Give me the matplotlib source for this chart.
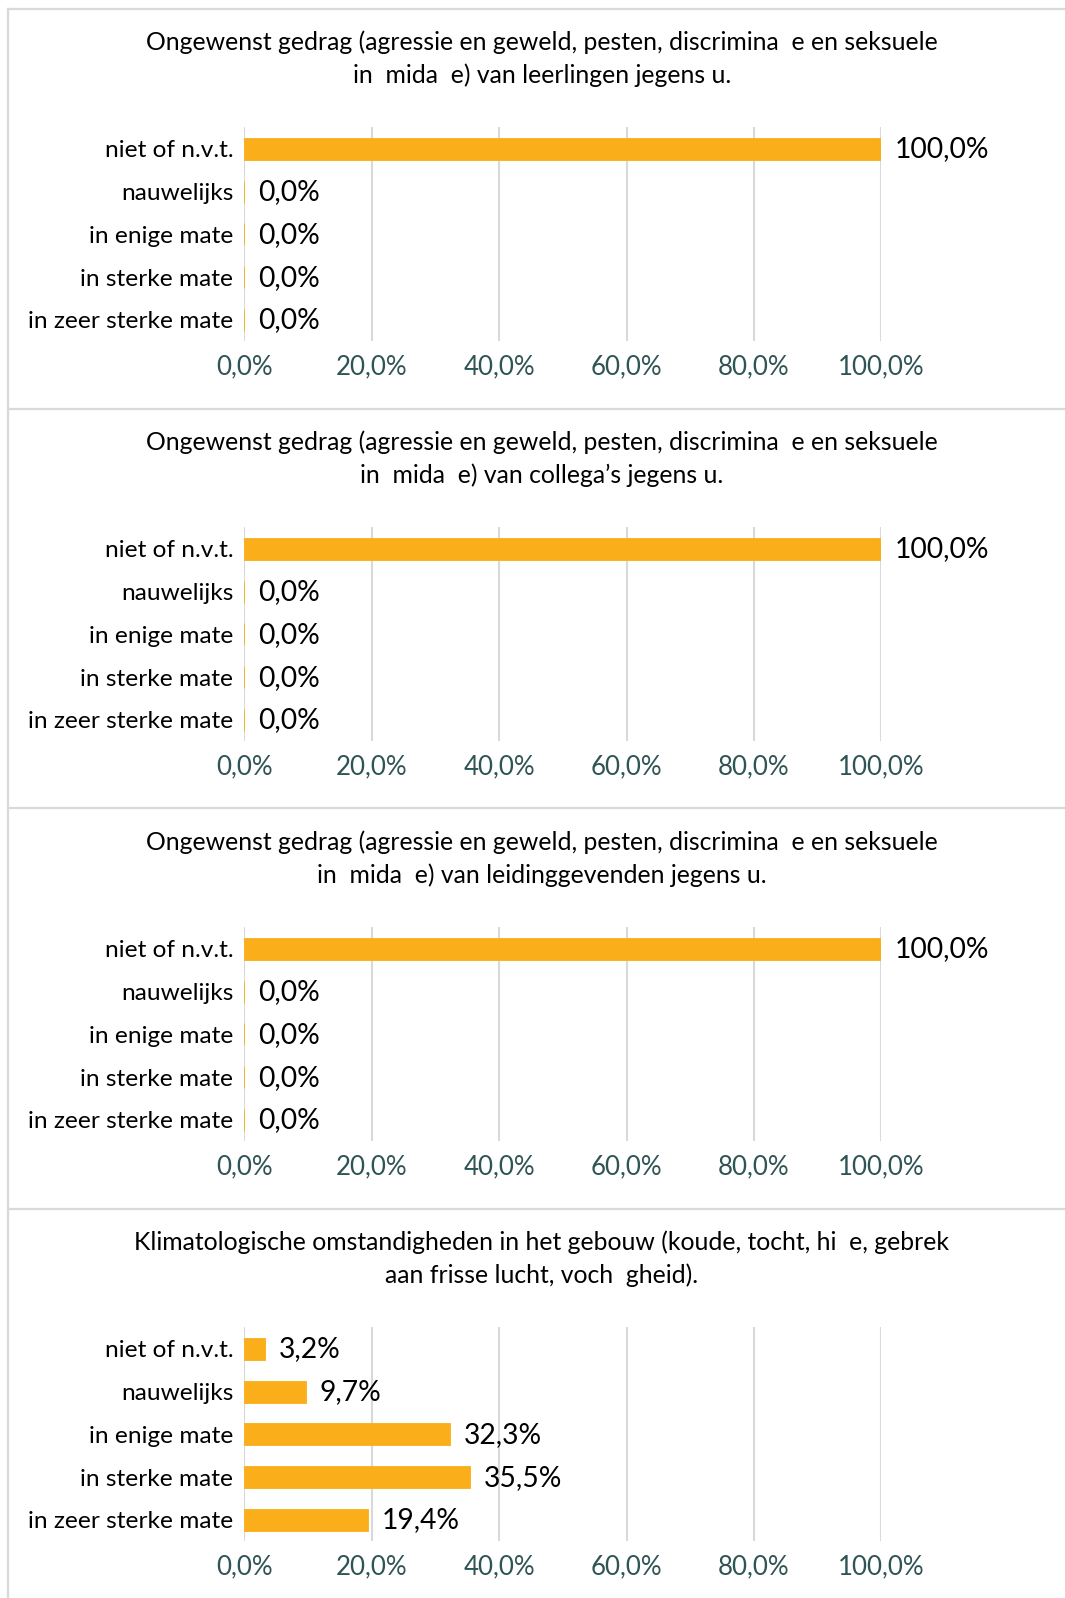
import matplotlib
matplotlib.use("Agg")
import matplotlib.pyplot as plt
from matplotlib.lines import Line2D

plt.rcParams['font.family'] = ['Lato', 'DejaVu Sans']

categories = ["niet of n.v.t.", "nauwelijks", "in enige mate", "in sterke mate", "in zeer sterke mate"]

title_lines = [
    ["Ongewenst gedrag (agressie en geweld, pesten, discrimina  e en seksuele",
     "in  mida  e) van leerlingen jegens u."],
    ["Ongewenst gedrag (agressie en geweld, pesten, discrimina  e en seksuele",
     "in  mida  e) van collega’s jegens u."],
    ["Ongewenst gedrag (agressie en geweld, pesten, discrimina  e en seksuele",
     "in  mida  e) van leidinggevenden jegens u."],
    ["Klimatologische omstandigheden in het gebouw (koude, tocht, hi  e, gebrek",
     "aan frisse lucht, voch  gheid)."],
]

values_leerlingen = [100.0, 0.0, 0.0, 0.0, 0.0]
values_collegas = [100.0, 0.0, 0.0, 0.0, 0.0]
values_leidinggevenden = [100.0, 0.0, 0.0, 0.0, 0.0]
values_klimaat = [3.2, 9.7, 32.3, 35.5, 19.4]
all_values = [values_leerlingen, values_collegas, values_leidinggevenden, values_klimaat]

xticks = [0, 20, 40, 60, 80, 100]
xtick_labels = ["0,0%", "20,0%", "40,0%", "60,0%", "80,0%", "100,0%"]

W, H = 1065, 1598
fig = plt.figure(figsize=(W / 100, H / 100), dpi=100)

BAR = "#F9AE1A"
GRID = "#D9D9D9"
TICKC = "#2F5456"

def fx(px):
    return px / W

def fy(py):
    return 1 - py / H

panel_h = 400
top0 = 8.5
ax_left, ax_right = 244.3, 881.3

for i, (tl, vals) in enumerate(zip(title_lines, all_values)):
    pt = top0 + panel_h * i
    a_top = pt + 118.8
    a_bot = pt + 332.9
    ax = fig.add_axes([fx(ax_left), fy(a_bot), fx(ax_right - ax_left), (a_bot - a_top) / H])
    y = list(range(len(categories)))
    ax.barh(y, vals, height=0.515, color=BAR, edgecolor=BAR, linewidth=0.6, zorder=3)
    ax.set_ylim(len(categories) - 0.5, -0.5)
    ax.set_xlim(0, 100)
    ax.set_xticks(xticks)
    ax.set_xticklabels(xtick_labels, fontsize=18.6, color=TICKC)
    ax.set_yticks(y)
    ax.set_yticklabels(categories, fontsize=17.6, color="#000000")
    ax.tick_params(axis='both', length=0)
    ax.tick_params(axis='x', pad=9.5)
    ax.tick_params(axis='y', pad=8)
    ax.grid(axis='x', color=GRID, linewidth=1.5, zorder=0)
    for s in ax.spines.values():
        s.set_visible(False)
    for yi, v in zip(y, vals):
        ax.annotate(f"{v:.1f}%".replace(".", ","), xy=(v, yi), xytext=(10, 1.5),
                    textcoords="offset points", ha="left", va="center_baseline",
                    fontsize=20.3, color="#000000")
    fig.text(fx(542), fy(pt + 31.8), tl[0], ha="center", va="center_baseline", fontsize=17.8, color="#000000")
    fig.text(fx(542), fy(pt + 64.6), tl[1], ha="center", va="center_baseline", fontsize=17.8, color="#000000")

# chart area borders
fig.add_artist(Line2D([fx(8.2), fx(8.2)], [fy(top0), fy(H)], color=GRID, linewidth=1.6, transform=fig.transFigure))
for i in range(4):
    yy = fy(top0 + panel_h * i)
    fig.add_artist(Line2D([fx(8.2), 1.0], [yy, yy], color=GRID, linewidth=1.6, transform=fig.transFigure))

fig.savefig("out.png", dpi=100)
